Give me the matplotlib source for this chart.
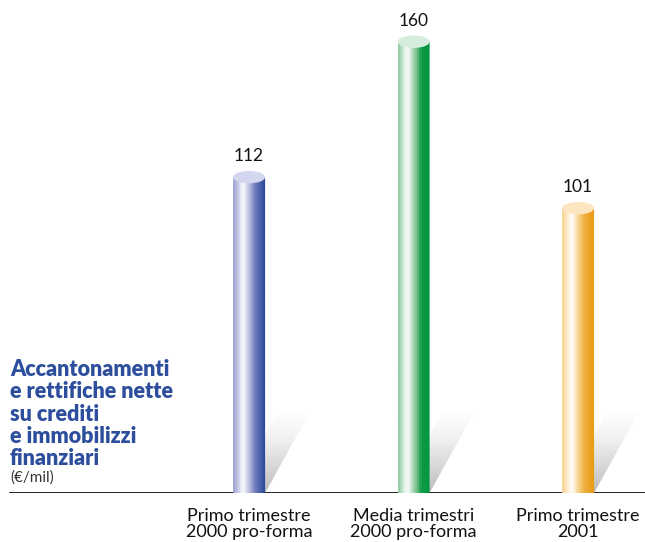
import numpy as np
import matplotlib.pyplot as plt
from matplotlib.colors import LinearSegmentedColormap
from matplotlib.patches import Ellipse, PathPatch, Polygon
from matplotlib.path import Path

plt.rcParams['font.family'] = ['Lato', 'DejaVu Sans']

categories = ['Primo trimestre\n2000 pro-forma',
              'Media trimestri\n2000 pro-forma',
              'Primo trimestre\n2001']
values = [112, 160, 101]

body_colors = [
    ['#a3a8d4', '#c9cce8', '#ffffff', '#d2d5ec', '#9aa1cf', '#6674b6', '#2b4b9b'],
    ['#98cfa8', '#d6eddb', '#ffffff', '#b9dec3', '#74c08b', '#0f9a48', '#009640'],
    ['#fbd69a', '#fdebcc', '#ffffff', '#fce2b4', '#f5c66f', '#f0ad3a', '#eb9a14'],
]
body_stops = [0.0, 0.14, 0.28, 0.42, 0.58, 0.72, 1.0]
top_colors = ['#d3d6ee', '#d6ecdc', '#fde5c2']

fig = plt.figure(figsize=(6.45, 5.42), dpi=100)
ax = fig.add_axes([0, 49 / 542, 1, 493 / 542])
ax.set_xlim(-1.514, 2.407)
ax.set_ylim(0, 174.8)
for s in ax.spines.values():
    s.set_visible(False)
ax.set_yticks([])

x = np.arange(len(values))
w = 0.195          # bar width (data units)
eh = 2.2           # half height of the cylinder caps
sdx, sdy = 0.28, 29.5   # shadow offset

# shadow gradient, grey at the foot, fading upward
shade = LinearSegmentedColormap.from_list('shade', ['#bdbdbd', '#d9d9d9', '#f2f2f2', '#ffffff'])
for xi in x:
    poly = Polygon([(xi - w / 2, 0), (xi + w / 2, 0),
                    (xi + w / 2 + sdx, sdy), (xi - w / 2 + sdx, sdy)],
                   closed=True, facecolor='none', edgecolor='none')
    ax.add_patch(poly)
    grad = np.linspace(0, 1, 64).reshape(-1, 1)
    im = ax.imshow(grad, cmap=shade, origin='lower', aspect='auto', zorder=1,
                   extent=[xi - w / 2, xi + w / 2 + sdx, 0, sdy])
    im.set_clip_path(poly)

ax.axhline(0, xmin=10 / 645, xmax=1, color='#111111', lw=1.3, zorder=2)

t = np.linspace(np.pi, 2 * np.pi, 40)
for xi, v, cols, tc in zip(x, values, body_colors, top_colors):
    # cylinder body: straight sides with a rounded foot
    verts = [(xi - w / 2, v)]
    verts += [(xi + w / 2 * np.cos(a), eh * np.sin(a)) for a in t]
    verts += [(xi + w / 2, v), (xi - w / 2, v)]
    body = PathPatch(Path(verts, closed=False), facecolor='none', edgecolor='none')
    ax.add_patch(body)
    cmap = LinearSegmentedColormap.from_list('c', list(zip(body_stops, cols)), N=14)
    grad = np.linspace(0, 1, 200).reshape(1, -1)
    im = ax.imshow(grad, cmap=cmap, aspect='auto', zorder=3,
                   extent=[xi - w / 2, xi + w / 2, -eh, v])
    im.set_clip_path(body)
    ax.add_patch(Ellipse((xi, v), w, 2 * eh, facecolor=tc, edgecolor='none', zorder=4))
    ax.text(xi, v + 7.4, str(v), ha='center', va='center', fontsize=12.5, color='#111111')

ax.set_xticks(x, categories)
ax.tick_params(axis='x', length=0, pad=11, labelsize=13, labelcolor='#111111')
for lbl in ax.get_xticklabels():
    lbl.set_linespacing(1.0)

fig.text(10 / 645, 1 - 359 / 542,
         'Accantonamenti\ne rettifiche nette\nsu crediti\ne immobilizzi\nfinanziari',
         ha='left', va='top', fontsize=15.5, fontweight='heavy', color='#2d4e9d',
         linespacing=1.08)
fig.text(10 / 645, 1 - 478 / 542, '(€/mil)', ha='left', va='center',
         fontsize=11, color='#333333')

fig.savefig('out.png', dpi=100, facecolor='white')
